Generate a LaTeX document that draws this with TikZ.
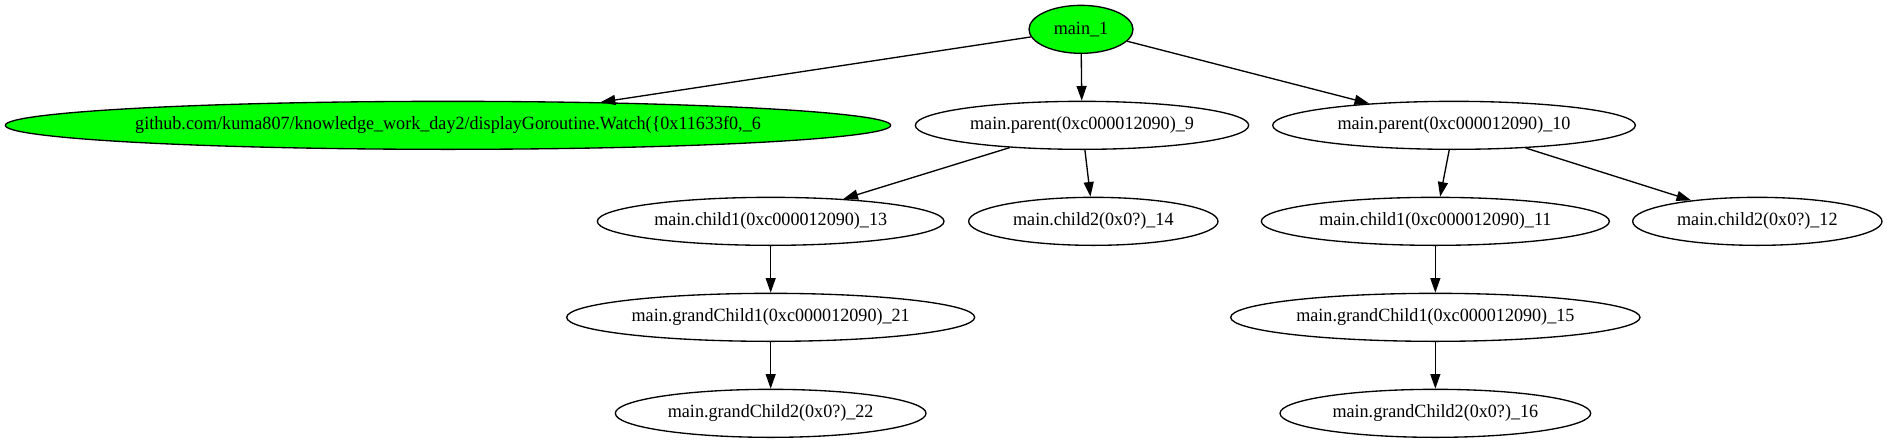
\documentclass[tikz,border=0pt]{standalone}
\usepackage{fontspec}
\setmainfont{Liberation Serif}
\usetikzlibrary{shapes.geometric,arrows.meta}
\definecolor{gvgreen}{HTML}{00FF00}
\newcommand{\gvlbl}[1]{\makebox[0pt]{\scalebox{0.97}[1]{#1}}}
\tikzset{
  gnode/.style={ellipse, draw=black, line width=1pt, inner sep=0pt,
    minimum height=36pt, font=\fontsize{14}{16}\selectfont},
  gfill/.style={fill=gvgreen},
  edge/.style={draw=black, line width=1pt, -{Triangle[length=11pt,width=7.5pt]}}
}
\begin{document}
\begin{tikzpicture}[x=1pt,y=-1pt]
\useasboundingbox (0,0) rectangle (1415.25,332.25);
\node[gnode,gfill,minimum width=78pt] (m1) at (810.75,22) {\gvlbl{main\_1}};
\node[gnode,gfill,minimum width=664pt] (gh) at (336,94) {\gvlbl{github.com/kuma807/knowledge\_work\_day2/displayGoroutine.Watch(\{0x11633f0,\_6}};
\node[gnode,minimum width=250pt] (p9) at (811.5,94) {\gvlbl{main.parent(0xc000012090)\_9}};
\node[gnode,minimum width=272pt] (p10) at (1090.5,94) {\gvlbl{main.parent(0xc000012090)\_10}};
\node[gnode,minimum width=260pt] (c13) at (578,166) {\gvlbl{main.child1(0xc000012090)\_13}};
\node[gnode,minimum width=187pt] (c14) at (820,166) {\gvlbl{main.child2(0x0?)\_14}};
\node[gnode,minimum width=261pt] (c11) at (1076.5,166) {\gvlbl{main.child1(0xc000012090)\_11}};
\node[gnode,minimum width=187pt] (c12) at (1318,166) {\gvlbl{main.child2(0x0?)\_12}};
\node[gnode,minimum width=306pt] (g21) at (578,238) {\gvlbl{main.grandChild1(0xc000012090)\_21}};
\node[gnode,minimum width=233pt] (g22) at (578,310) {\gvlbl{main.grandChild2(0x0?)\_22}};
\node[gnode,minimum width=307pt] (g15) at (1076.5,238) {\gvlbl{main.grandChild1(0xc000012090)\_15}};
\node[gnode,minimum width=233pt] (g16) at (1076.5,310) {\gvlbl{main.grandChild2(0x0?)\_16}};
\draw[edge] (m1) -- (gh);
\draw[edge] (m1) -- (p9);
\draw[edge] (m1) -- (p10);
\draw[edge] (p9) -- (c13);
\draw[edge] (p9) -- (c14);
\draw[edge] (p10) -- (c11);
\draw[edge] (p10) -- (c12);
\draw[edge] (c13) -- (g21);
\draw[edge] (g21) -- (g22);
\draw[edge] (c11) -- (g15);
\draw[edge] (g15) -- (g16);
\end{tikzpicture}
\end{document}
